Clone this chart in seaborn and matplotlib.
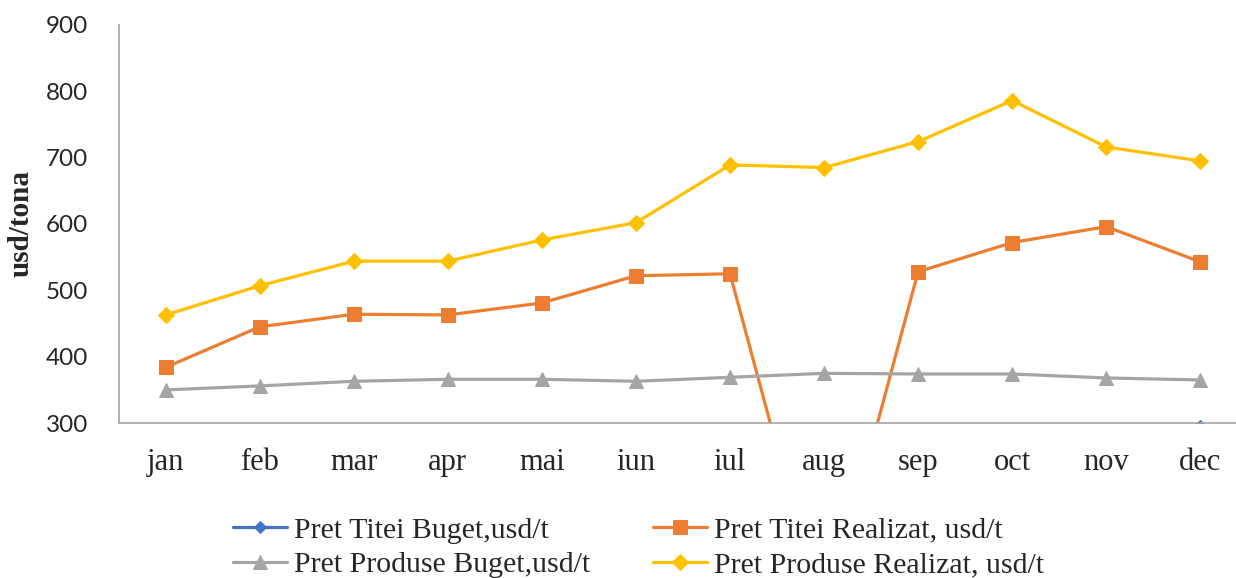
import pandas as pd
import matplotlib.pyplot as plt
import seaborn as sns

# -------------------------------
# Data
# -------------------------------
months = ['jan', 'feb', 'mar', 'apr', 'mai', 'iun', 'iul', 'aug', 'sep', 'oct', 'nov', 'dec']

titei_buget = [255, 258, 262, 265, 268, 270, 274, 278, 282, 286, 290, 296]
titei_realizat = [384, 445, 464, 463, 481, 522, 525, 0, 528, 572, 596, 543]
produse_buget = [350, 356, 363, 366, 366, 363, 369, 375, 374, 374, 368, 365]
produse_realizat = [463, 507, 544, 544, 576, 602, 689, 685, 724, 786, 716, 695]

series_names = ['Pret Titei Buget,usd/t', 'Pret Titei Realizat, usd/t',
                'Pret Produse Buget,usd/t', 'Pret Produse Realizat, usd/t']
series_values = [titei_buget, titei_realizat, produse_buget, produse_realizat]
colors = ['#4472C4', '#ED7D31', '#A5A5A5', '#FFC000']
markers = ['D', 's', '^', 'D']
msizes = [6, 10, 10, 8]

# -------------------------------
# Plot
# -------------------------------
sns.set_style('white')
fig = plt.figure(figsize=(12.36, 5.78), dpi=100)
ax = fig.add_axes([0.096, 0.268, 0.904, 0.689])

x = list(range(len(months)))
for name, vals, c, m, ms in zip(series_names, series_values, colors, markers, msizes):
    df = pd.DataFrame({'x': x, 'y': vals})
    sns.lineplot(data=df, x='x', y='y', ax=ax, color=c, marker=m, markersize=ms,
                 markeredgecolor=c, linewidth=2.3, label=name)

ax.set_ylim(300, 900)
ax.set_xlim(-0.5, 11.38)
ax.set_xticks(x)
ax.set_xticklabels(months, fontfamily='Liberation Serif', fontsize=22)
ax.set_yticks(range(300, 901, 100))
ax.tick_params(axis='y', labelsize=17.5, pad=22, length=0)
ax.tick_params(axis='x', pad=18, length=0)
for lab in ax.get_yticklabels():
    lab.set_fontfamily('Lato')

ax.set_xlabel('')
ax.set_ylabel('usd/tona', fontfamily='Liberation Serif', fontweight='bold', fontsize=21)
ax.yaxis.set_label_coords(-0.075, 0.5)

for side in ['top', 'right']:
    ax.spines[side].set_visible(False)
for side in ['left', 'bottom']:
    ax.spines[side].set_color('#A6A6A6')
    ax.spines[side].set_linewidth(1.2)

handles, labels = ax.get_legend_handles_labels()
order = [0, 2, 1, 3]
fig.legend([handles[i] for i in order], [labels[i] for i in order],
           loc='upper left', bbox_to_anchor=(0.1885, 0.106), ncol=2, frameon=False,
           prop={'family': 'Liberation Serif', 'size': 21.5}, borderpad=0, borderaxespad=0,
           handlelength=1.8, columnspacing=2.1, labelspacing=0.26, handletextpad=0.25)
ax.get_legend().remove()

plt.savefig('out.png', dpi=100)
